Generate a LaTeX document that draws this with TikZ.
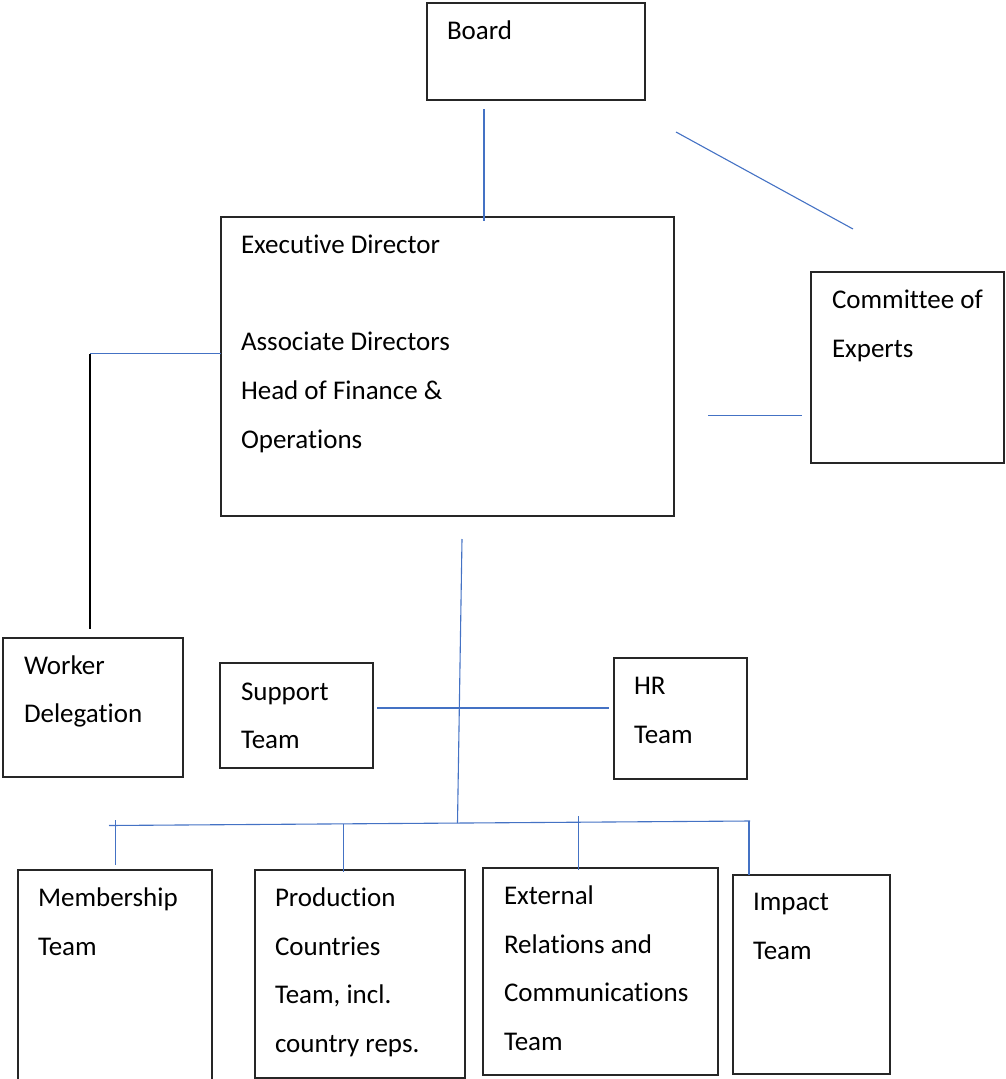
\documentclass[tikz,border=0pt]{standalone}
\usepackage{fontspec}
\setmainfont{Carlito}[Ligatures={NoCommon,NoContextual}]
\definecolor{cblue}{RGB}{68,114,196}
\begin{document}
\begin{tikzpicture}[x=1pt,y=-1pt,
  box/.style={draw=black!85, line width=1.2pt, inner sep=0pt, outer sep=0pt, anchor=north west},
  txt/.style={anchor=north west, inner sep=0pt, outer sep=0pt, align=left,
              font=\fontsize{27}{48.7}\selectfont},
  link/.style={draw=cblue, line width=1.1pt},
  blk/.style={draw=black, line width=1.2pt}]
\useasboundingbox (0,0) rectangle (1005,1079);

% boxes
\node[box, minimum width=218pt, minimum height=97pt]  (board)   at (427,3)   {};
\node[box, minimum width=453pt, minimum height=299pt] (ed)      at (221,217) {};
\node[box, minimum width=193pt, minimum height=191pt] (coe)     at (811,272) {};
\node[box, minimum width=180pt, minimum height=139pt] (worker)  at (3,638)   {};
\node[box, minimum width=153pt, minimum height=105pt] (support) at (220,663) {};
\node[box, minimum width=133pt, minimum height=121pt] (hr)      at (614,658) {};
\node[box, minimum width=194pt, minimum height=215pt] (member)  at (18,870)  {};
\node[box, minimum width=210pt, minimum height=208pt] (prod)    at (255,870) {};
\node[box, minimum width=235pt, minimum height=207pt] (ext)     at (483,868) {};
\node[box, minimum width=157pt, minimum height=199pt] (impact)  at (733,875) {};

% texts (top = first baseline - 0.7*48.7)
\node[txt] (tboard)   at (447,5.7)   {\strut Board};
\node[txt] (ted)      at (241,219.3) {\strut Executive Director\\[48.7pt]Associate Directors\\Head of Finance \&\\Operations};
\node[txt] (tcoe)     at (832,274.5) {\strut Committee of\\Experts};
\node[txt] (tworker)  at (24,640.2)  {\strut Worker\\Delegation};
\node[txt] (tsupport) at (241,666.2) {\strut Support\\Team};
\node[txt] (thr)      at (634,660.3) {\strut HR\\Team};
\node[txt] (tmember)  at (38,872.3)  {\strut Membership\\Team};
\node[txt] (tprod)    at (275,872.3) {\strut Production\\Countries\\Team, incl.\\country reps.};
\node[txt] (text)     at (504,870.3) {\strut External\\Relations and\\Communications\\Team};
\node[txt] (timpact)  at (753,876.3) {\strut Impact\\Team};

% connector end points
\coordinate (b1) at (484,109);
\coordinate (b2) at (484,221);
\coordinate (d1) at (676,132);
\coordinate (d2) at (853,229);
\coordinate (c1) at (708,415.5);
\coordinate (c2) at (802,415.5);
\coordinate (w1) at (90,353.5);
\coordinate (w2) at (221,353.5);
\coordinate (w3) at (90,629);
\coordinate (v1) at (462,539);
\coordinate (v2) at (457.5,823);
\coordinate (h1) at (377,708);
\coordinate (h2) at (609,708);
\coordinate (bus1) at (109,825.5);
\coordinate (bus2) at (750,821);
\coordinate (m1) at (115.5,820);
\coordinate (m2) at (115.5,864.5);
\coordinate (p1) at (343.7,823.5);
\coordinate (p2) at (343.7,872);
\coordinate (e1) at (578.3,816);
\coordinate (e2) at (578.3,869.5);
\coordinate (i1) at (749,821);
\coordinate (i2) at (749,875);

% connectors
\draw[link] (b1) -- (b2);
\draw[link] (d1) -- (d2);
\draw[link] (c1) -- (c2);
\draw[link] (w1) -- (w2);
\draw[blk]  (w1) -- (w3);
\draw[link] (v1) -- (v2);
\draw[link] (h1) -- (h2);
\draw[link] (bus1) -- (bus2);
\draw[link] (m1) -- (m2);
\draw[link] (p1) -- (p2);
\draw[link] (e1) -- (e2);
\draw[link] (i1) -- (i2);
\end{tikzpicture}
\end{document}
